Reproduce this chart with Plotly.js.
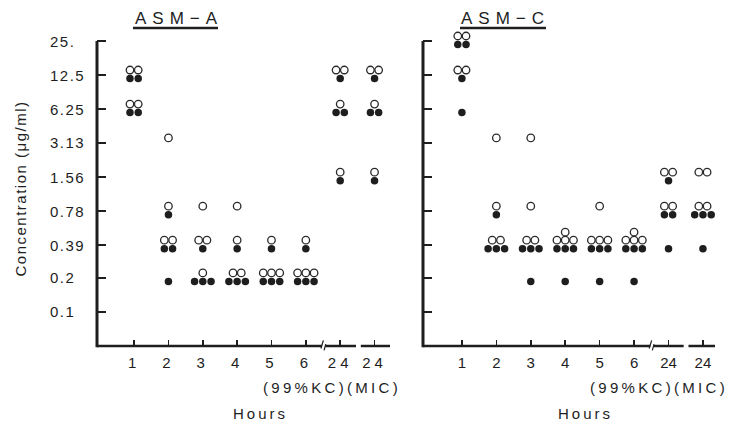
<!DOCTYPE html>
<html>
<head>
<meta charset="utf-8">
<script src="https://cdn.plot.ly/plotly-3.0.1.min.js"></script>
<style>
html, body { margin: 0; padding: 0; background: #ffffff; }
.xtick text { letter-spacing: 4px; }
.ytitle { letter-spacing: 1.5px; }
</style>
</head>
<body>
<div id="chart" style="width:730px;height:424px;"></div>
<script>
// ---------------- data ----------------
const hours = ['1', '2', '3', '4', '5', '6', '24', '24'];
const concTicks = [25, 12.5, 6.25, 3.13, 1.56, 0.78, 0.39, 0.2, 0.1];
const concLabels = ['25.', '12.5', '6.25', '3.13', '1.56', '0.78', '0.39', '0.2', '0.1'];
const panelTitles = ['ASM\u2212A', 'ASM\u2212C'];
const kcMicLabel = '(99%KC)(MIC)';
const xTitle = 'Hours';
const yTitle = 'Concentration (\u03bcg/ml)';

// one list per hour column (4 determinations each)
const asmA_open = [
  [12.5, 12.5, 6.25, 6.25],
  [3.13, 0.78, 0.39, 0.39],
  [0.78, 0.39, 0.39, 0.2],
  [0.78, 0.39, 0.2, 0.2],
  [0.39, 0.2, 0.2, 0.2],
  [0.39, 0.2, 0.2, 0.2],
  [12.5, 12.5, 6.25, 1.56],
  [12.5, 12.5, 6.25, 1.56]
];
const asmA_filled = [
  [12.5, 12.5, 6.25, 6.25],
  [0.78, 0.39, 0.39, 0.2],
  [0.39, 0.2, 0.2, 0.2],
  [0.39, 0.2, 0.2, 0.2],
  [0.39, 0.2, 0.2, 0.2],
  [0.39, 0.2, 0.2, 0.2],
  [12.5, 6.25, 6.25, 1.56],
  [12.5, 6.25, 6.25, 1.56]
];
const asmC_open = [
  [25, 25, 12.5, 12.5],
  [3.13, 0.78, 0.39, 0.39],
  [3.13, 0.78, 0.39, 0.39],
  [0.39, 0.39, 0.39, 0.39],
  [0.78, 0.39, 0.39, 0.39],
  [0.39, 0.39, 0.39, 0.39],
  [1.56, 1.56, 0.78, 0.78],
  [1.56, 1.56, 0.78, 0.78]
];
const asmC_filled = [
  [25, 25, 12.5, 6.25],
  [0.78, 0.39, 0.39, 0.39],
  [0.39, 0.39, 0.39, 0.2],
  [0.39, 0.39, 0.39, 0.2],
  [0.39, 0.39, 0.39, 0.2],
  [0.39, 0.39, 0.39, 0.2],
  [1.56, 0.78, 0.78, 0.39],
  [0.78, 0.78, 0.78, 0.39]
];

// ---------------- layout helpers ----------------
const DX = 0.24;        // horizontal spacing of stacked symbols (x units)
const LEVEL_PX = 34;    // pixels per two-fold dilution step
const OPEN_UP = 5, OPEN_ROW = 8, FILLED_DOWN = 3.5;

function placeColumn(vals, col, isOpen, xs, ys) {
  const counts = new Map();
  vals.forEach(v => counts.set(v, (counts.get(v) || 0) + 1));
  counts.forEach((n, v) => {
    const rows = isOpen ? [Math.min(n, 3), Math.max(n - 3, 0)] : [n];
    rows.forEach((m, r) => {
      const shiftPx = isOpen ? (OPEN_UP + OPEN_ROW * r) : -FILLED_DOWN;
      for (let i = 0; i < m; i++) {
        xs.push(col + (i - (m - 1) / 2) * DX);
        ys.push(v * Math.pow(2, shiftPx / LEVEL_PX));
      }
    });
  });
}
function placeAll(cols, isOpen) {
  const xs = [], ys = [];
  cols.forEach((vals, i) => placeColumn(vals, i + 1, isOpen, xs, ys));
  return {xs, ys};
}

const ink = '#1e1e1e';
const font = 'Liberation Sans, Arial, Helvetica, sans-serif';

function traces(openCols, filledCols, xa, ya) {
  const o = placeAll(openCols, true), f = placeAll(filledCols, false);
  return [
    {type: 'scatter', mode: 'markers', x: f.xs, y: f.ys, xaxis: xa, yaxis: ya, cliponaxis: false,
     marker: {symbol: 'circle', size: 7.5, color: ink, line: {width: 0}}, hoverinfo: 'skip'},
    {type: 'scatter', mode: 'markers', x: o.xs, y: o.ys, xaxis: xa, yaxis: ya, cliponaxis: false,
     marker: {symbol: 'circle-open', size: 7.5, color: '#2a2a2a', line: {width: 1.3, color: '#2a2a2a'}}, hoverinfo: 'skip'}
  ];
}

const data = [].concat(
  traces(asmA_open, asmA_filled, 'x', 'y'),
  traces(asmC_open, asmC_filled, 'x2', 'y2')
);

const colVals = hours.map((h, i) => i + 1);
const yTop = Math.log10(25);
const yRange = [Math.log10(0.05), yTop + 0.0885];   // a little headroom above the 25 level
const xRangeL = [-0.08, 8.45];
const xRangeR = [-0.13, 8.35];

function xAxis(domain, range, anchor) {
  return {domain, range, anchor, tickmode: 'array', tickvals: colVals, ticktext: hours,
    ticks: 'inside', ticklen: 6, tickwidth: 1.5, tickcolor: ink, showline: false,
    ticklabelstandoff: 6,
    showgrid: false, zeroline: false, automargin: false, fixedrange: true,
    tickfont: {family: font, size: 15, color: ink}};
}
function yAxis(anchor, withTitle) {
  const ax = {type: 'log', range: yRange, anchor, tickmode: 'array', tickvals: concTicks,
    showticklabels: false, ticks: 'inside', ticklen: 9, tickwidth: 1.5, tickcolor: ink,
    showline: false, showgrid: false, zeroline: false,
    automargin: false, fixedrange: true};
  if (withTitle) ax.title = {text: yTitle, font: {family: font, size: 15, color: ink}, standoff: 65};
  return ax;
}

const annotations = [];
concTicks.forEach((v, i) => annotations.push({
  xref: 'paper', yref: 'y', x: -0.0793, y: Math.log10(v), xanchor: 'left', yanchor: 'middle', align: 'left',
  text: '<span style="letter-spacing:1.5px">' + concLabels[i] + '</span>', showarrow: false,
  font: {family: font, size: 15, color: ink}
}));
[0.1327, 0.6602].forEach((px, i) => annotations.push({
  xref: 'paper', yref: 'paper', x: px, y: 1.0381, xanchor: 'center', yanchor: 'middle',
  text: '<span style="letter-spacing:6px">' + panelTitles[i] + '</span>', showarrow: false,
  font: {family: font, size: 17, color: ink}
}));
[['x', 6.76], ['x2', 6.73]].forEach(p => annotations.push({
  xref: p[0], yref: 'paper', x: p[1], y: -0.1302, xanchor: 'center', yanchor: 'middle',
  text: '<span style="letter-spacing:3.3px">' + kcMicLabel + '</span>', showarrow: false,
  font: {family: font, size: 15, color: ink}
}));
[['x', 4.68], ['x2', 4.59]].forEach(p => annotations.push({
  xref: p[0], yref: 'paper', x: p[1], y: -0.2127, xanchor: 'center', yanchor: 'middle',
  text: '<span style="letter-spacing:3px">' + xTitle + '</span>', showarrow: false,
  font: {family: font, size: 15, color: ink}
}));

// axis lines drawn as shapes (y axis stops at the 25 level, x axis is broken)
const shapes = [];
function frac(v, r) { return (v - r[0]) / (r[1] - r[0]); }
function axesLines(xa, ya, r, segs) {
  const xd = xa + ' domain', yd = ya + ' domain';
  shapes.push({type: 'line', xref: xd, yref: yd, x0: 0, x1: 0, y0: -0.004, y1: frac(yTop, yRange),
    line: {color: ink, width: 3}});
  segs.forEach(s => shapes.push({type: 'line', xref: xd, yref: yd,
    x0: frac(s[0], r), x1: frac(s[1], r), y0: 0, y1: 0, line: {color: ink, width: 2.5}}));
  shapes.push({type: 'line', xref: xd, yref: yd,
    x0: frac(6.44, r), x1: frac(6.51, r), y0: -0.008, y1: 0.018, line: {color: ink, width: 1.2}});
  shapes.push({type: 'line', xref: xd, yref: yd,
    x0: frac(6.53, r), x1: frac(6.58, r), y0: -0.014, y1: 0.006, line: {color: ink, width: 1.2}});
}
axesLines('x', 'y', xRangeL, [[xRangeL[0], 6.47], [6.57, 7.46], [7.6, xRangeL[1]]]);
axesLines('x2', 'y2', xRangeR, [[xRangeR[0], 6.47], [6.57, 7.44], [7.58, xRangeR[1]]]);
// title underlines
[[0.0583, 0.1958], [0.5874, 0.7265]].forEach(u => shapes.push({type: 'line', xref: 'paper', yref: 'paper',
  x0: u[0], x1: u[1], y0: 1.0095, y1: 1.0095, line: {color: ink, width: 2.5}}));

const layout = {
  width: 730, height: 424,
  margin: {l: 97, r: 15, t: 31, b: 78, pad: 0},
  paper_bgcolor: '#ffffff', plot_bgcolor: '#ffffff',
  showlegend: false,
  font: {family: font, color: ink},
  xaxis: xAxis([0, 0.4741], xRangeL, 'y'),
  xaxis2: xAxis([0.5275, 1], xRangeR, 'y2'),
  yaxis: yAxis('x', true),
  yaxis2: yAxis('x2', false),
  annotations, shapes
};

Plotly.newPlot('chart', data, layout, {staticPlot: true, displayModeBar: false});
</script>
</body>
</html>
